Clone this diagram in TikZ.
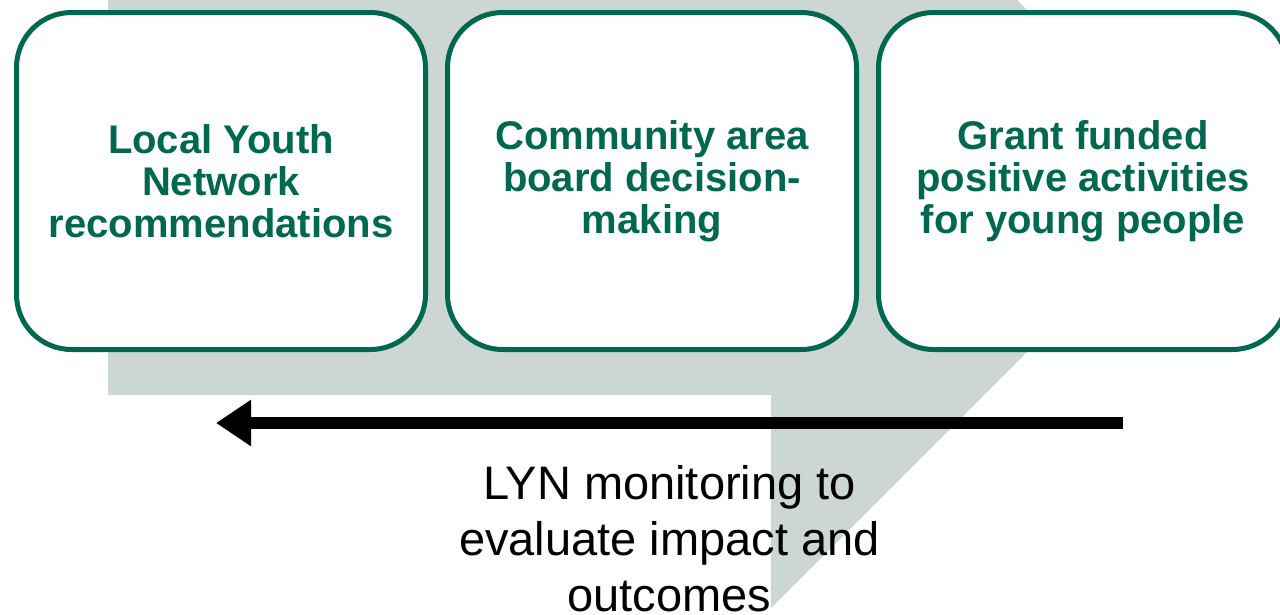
\documentclass[tikz,border=0pt]{standalone}
\usepackage{fontspec}
\setmainfont{Liberation Sans}
\usetikzlibrary{positioning, arrows.meta}
\definecolor{lyngreen}{RGB}{0,104,78}
\definecolor{lyngrey}{RGB}{204,215,211}

\begin{document}
\begin{tikzpicture}[x=1pt, y=-1pt, node distance=431pt, on grid,
    stage/.style={draw=lyngreen, line width=5pt, rounded corners=55pt, fill=white,
        minimum width=409pt, minimum height=337pt, align=center, text=lyngreen,
        font=\fontsize{40}{42}\selectfont\bfseries},
    remark/.style={align=center, inner sep=0pt, font=\fontsize{47}{56}\selectfont}]
    \useasboundingbox (0,0) rectangle (1280,614);
    \fill[lyngrey] (108,0) -- (1017,0) -- (1198,181) -- (771,608) -- (771,395) -- (108,395) -- cycle;

    \node[stage] (LYN) at (221,181) {Local Youth\\ Network\\ recommendations};
    \node[stage] (CAB) [right=of LYN] {Community area\\ board decision-\\ making};
    \node[stage] (GFA) [right=of CAB] {Grant funded\\ positive activities\\ for young people};

    \coordinate (from) at (1123,423);
    \coordinate (to) at (216,423);
    \draw[line width=12pt, -{Triangle[length=35pt, width=44pt]}] (from) -- (to)
        node [midway, below=36pt, remark] {LYN monitoring to\\ evaluate impact and\\ outcomes};
\end{tikzpicture}
\end{document}
